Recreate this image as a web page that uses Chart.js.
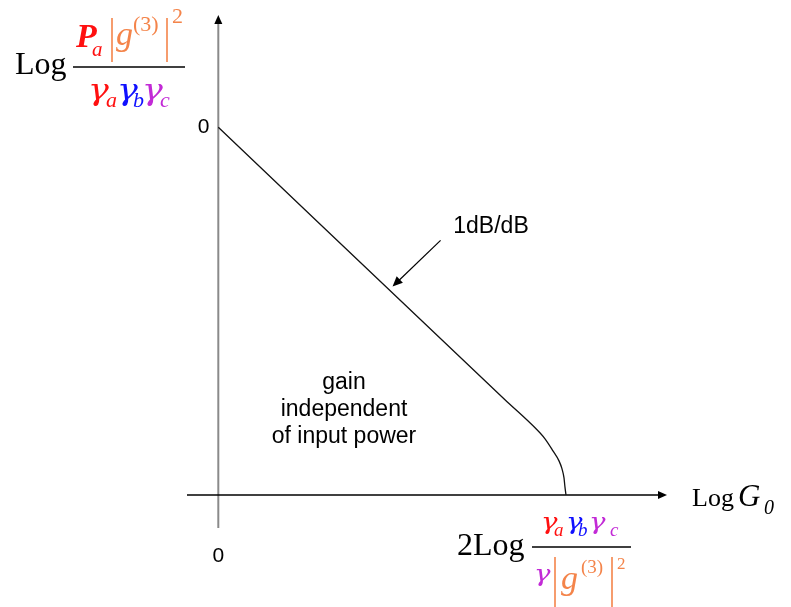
<!DOCTYPE html>
<html>
<head>
<meta charset="utf-8">
<title>Gain vs input power</title>
<script src="https://cdn.jsdelivr.net/npm/chart.js@4.4.1/dist/chart.umd.min.js"></script>
<style>
  html, body { margin: 0; padding: 0; background: #fff; }
  #wrap { position: relative; width: 791px; height: 607px; }
</style>
</head>
<body>
<div id="wrap"><canvas id="gainChart"></canvas></div>
<script>
  "use strict";

  // gain curve, both axes in dB (0 at the small-signal point)
  const inputLog = [0, 27.47, 30.45, 31.31, 32.07, 32.65, 32.94, 33.13, 33.22, 33.32];
  const gainLog = [0, -27.2, -30.1, -31.1, -32.3, -33.3, -34.1, -35.0, -35.9, -36.7];

  // axis extents (data units)
  const xRange = [-3, 43];
  const yRange = [-40, 11];
  const xAxisAt = -36.7;           // horizontal axis sits where the curve ends
  const xAxisSpan = [-3, 43];
  const yAxisSpan = [-40, 11.2];

  // slope callout: tail and tip in data units
  const slopeArrow = { from: [21.3, -11.3], to: [16.7, -15.9] };
  const slopeText = "1dB/dB";
  const regionText = ["gain", "independent", "of input power"];
  const zeroText = "0";

  const RED = "#ff1010", BLUE = "#1010ff", PURPLE = "#c22ad6", ORANGE = "#f4844a";
  const SERIF = "'Liberation Serif', 'Times New Roman', serif";
  const GREEK = "'DejaVu Serif', serif";
  const SANS = "'Liberation Sans', Arial, sans-serif";

  function arrowHead(ctx, x, y, ang, len, half) {
    ctx.save();
    ctx.translate(x, y);
    ctx.rotate(ang);
    ctx.beginPath();
    ctx.moveTo(0, 0);
    ctx.lineTo(-len, -half);
    ctx.lineTo(-len, half);
    ctx.closePath();
    ctx.fill();
    ctx.restore();
  }

  // draw a list of [text, x, baseline, font, colour, xStretch] pieces
  function runs(ctx, list) {
    ctx.textAlign = "left";
    ctx.textBaseline = "alphabetic";
    list.forEach(([t, x, y, font, color, sx = 1]) => {
      ctx.save();
      ctx.font = font;
      ctx.fillStyle = color;
      ctx.translate(x, y);
      ctx.scale(sx, 1);
      ctx.fillText(t, 0, 0);
      ctx.restore();
    });
  }

  function rule(ctx, x1, y1, x2, y2, color, w) {
    ctx.strokeStyle = color;
    ctx.lineWidth = w;
    ctx.beginPath();
    ctx.moveTo(x1, y1);
    ctx.lineTo(x2, y2);
    ctx.stroke();
  }

  const it = (s) => "italic " + s + "px " + SERIF;
  const rg = (s) => s + "px " + SERIF;
  const gk = (s) => "italic " + s + "px " + GREEK;
  const WIDE = 1.2;   // greek letters a touch wider than the stock glyph

  const axesPlugin = {
    id: "axesArrows",
    beforeDatasetsDraw(chart) {
      const { ctx, scales: { x, y } } = chart;
      const x0 = x.getPixelForValue(0);
      const yb = y.getPixelForValue(xAxisAt);
      ctx.save();
      // vertical axis (grey) with arrow
      const yTop = y.getPixelForValue(yAxisSpan[1]);
      rule(ctx, x0, y.getPixelForValue(yAxisSpan[0]), x0, yTop + 6, "#8a8a8a", 2);
      ctx.fillStyle = "#000";
      arrowHead(ctx, x0, yTop, -Math.PI / 2, 9, 4);
      // horizontal axis with arrow
      const xEnd = x.getPixelForValue(xAxisSpan[1]);
      rule(ctx, x.getPixelForValue(xAxisSpan[0]), yb, xEnd - 5, yb, "#000", 1.6);
      arrowHead(ctx, xEnd, yb, 0, 9, 4);
      ctx.restore();
    },
    afterDatasetsDraw(chart) {
      const { ctx, scales: { x, y } } = chart;
      const x0 = x.getPixelForValue(0);
      ctx.save();

      // slope callout
      const fx = x.getPixelForValue(slopeArrow.from[0]), fy = y.getPixelForValue(slopeArrow.from[1]);
      const tx = x.getPixelForValue(slopeArrow.to[0]), ty = y.getPixelForValue(slopeArrow.to[1]);
      const ang = Math.atan2(ty - fy, tx - fx);
      rule(ctx, fx, fy, tx - 8 * Math.cos(ang), ty - 8 * Math.sin(ang), "#000", 1.2);
      ctx.fillStyle = "#000";
      arrowHead(ctx, tx, ty, ang, 10, 4.5);

      ctx.fillStyle = "#000";
      ctx.textAlign = "center";
      ctx.textBaseline = "alphabetic";
      ctx.font = "23px " + SANS;
      ctx.fillText(slopeText, 491, 233);
      regionText.forEach((t, i) => ctx.fillText(t, 344, 389 + i * 27));

      // zero marks
      ctx.font = "21px " + SANS;
      ctx.fillText(zeroText, x0, 562);
      ctx.textAlign = "right";
      ctx.fillText(zeroText, x0 - 9, 133);

      // y-axis title: Log Pa|g(3)|^2 / (γa γb γc)
      runs(ctx, [
        ["Log", 15, 74, rg(32), "#000"],
        ["P", 76, 47, "bold italic 34px " + SERIF, RED],
        ["a", 92, 56, it(21), RED],
        ["g", 116, 45, it(34), ORANGE],
        ["(3)", 133, 31, rg(22), ORANGE],
        ["2", 172, 23, rg(22), ORANGE],
        ["γ", 88, 100, gk(29), RED, WIDE],
        ["a", 106, 107, it(22), RED],
        ["γ", 117, 100, gk(29), BLUE, WIDE],
        ["b", 133, 107, it(22), BLUE],
        ["γ", 142, 100, gk(29), PURPLE, WIDE],
        ["c", 160, 107, it(22), PURPLE]
      ]);
      rule(ctx, 112, 18, 112, 62, ORANGE, 1.6);
      rule(ctx, 167, 18, 167, 62, ORANGE, 1.6);
      rule(ctx, 73, 67, 185, 67, "#000", 1.6);

      // x-axis title: Log G0
      runs(ctx, [
        ["Log", 692, 506, rg(26), "#000"],
        ["G", 738, 506, it(31), "#000"],
        ["0", 764, 514, it(20), "#000"]
      ]);

      // saturation point: 2Log γaγbγc / (γ |g(3)|^2)
      runs(ctx, [
        ["2Log", 457, 555, rg(32), "#000"],
        ["γ", 541, 529, gk(23), RED, WIDE],
        ["a", 554, 536, it(19), RED],
        ["γ", 566, 529, gk(23), BLUE, WIDE],
        ["b", 578, 536, it(19), BLUE],
        ["γ", 589, 529, gk(23), PURPLE, WIDE],
        ["c", 610, 536, it(19), PURPLE],
        ["γ", 534, 581, gk(23), PURPLE, WIDE],
        ["g", 561, 589, it(34), ORANGE],
        ["(3)", 581, 573, rg(19), ORANGE],
        ["2", 617, 569, rg(17), ORANGE]
      ]);
      rule(ctx, 555, 557, 555, 607, ORANGE, 1.6);
      rule(ctx, 612, 557, 612, 607, ORANGE, 1.6);
      rule(ctx, 532, 547, 631, 547, "#000", 1.6);

      ctx.restore();
    }
  };

  new Chart(document.getElementById("gainChart"), {
    type: "line",
    data: {
      datasets: [{
        data: inputLog.map((v, i) => ({ x: v, y: gainLog[i] })),
        borderColor: "#111",
        borderWidth: 1.3,
        pointRadius: 0,
        cubicInterpolationMode: "monotone",
        fill: false
      }]
    },
    options: {
      responsive: true,
      maintainAspectRatio: false,
      animation: false,
      layout: { padding: { left: 187, right: 124, top: 17, bottom: 79 } },
      plugins: { legend: { display: false }, tooltip: { enabled: false } },
      scales: {
        x: { type: "linear", min: xRange[0], max: xRange[1], display: false },
        y: { type: "linear", min: yRange[0], max: yRange[1], display: false }
      }
    },
    plugins: [axesPlugin]
  });
</script>
</body>
</html>
